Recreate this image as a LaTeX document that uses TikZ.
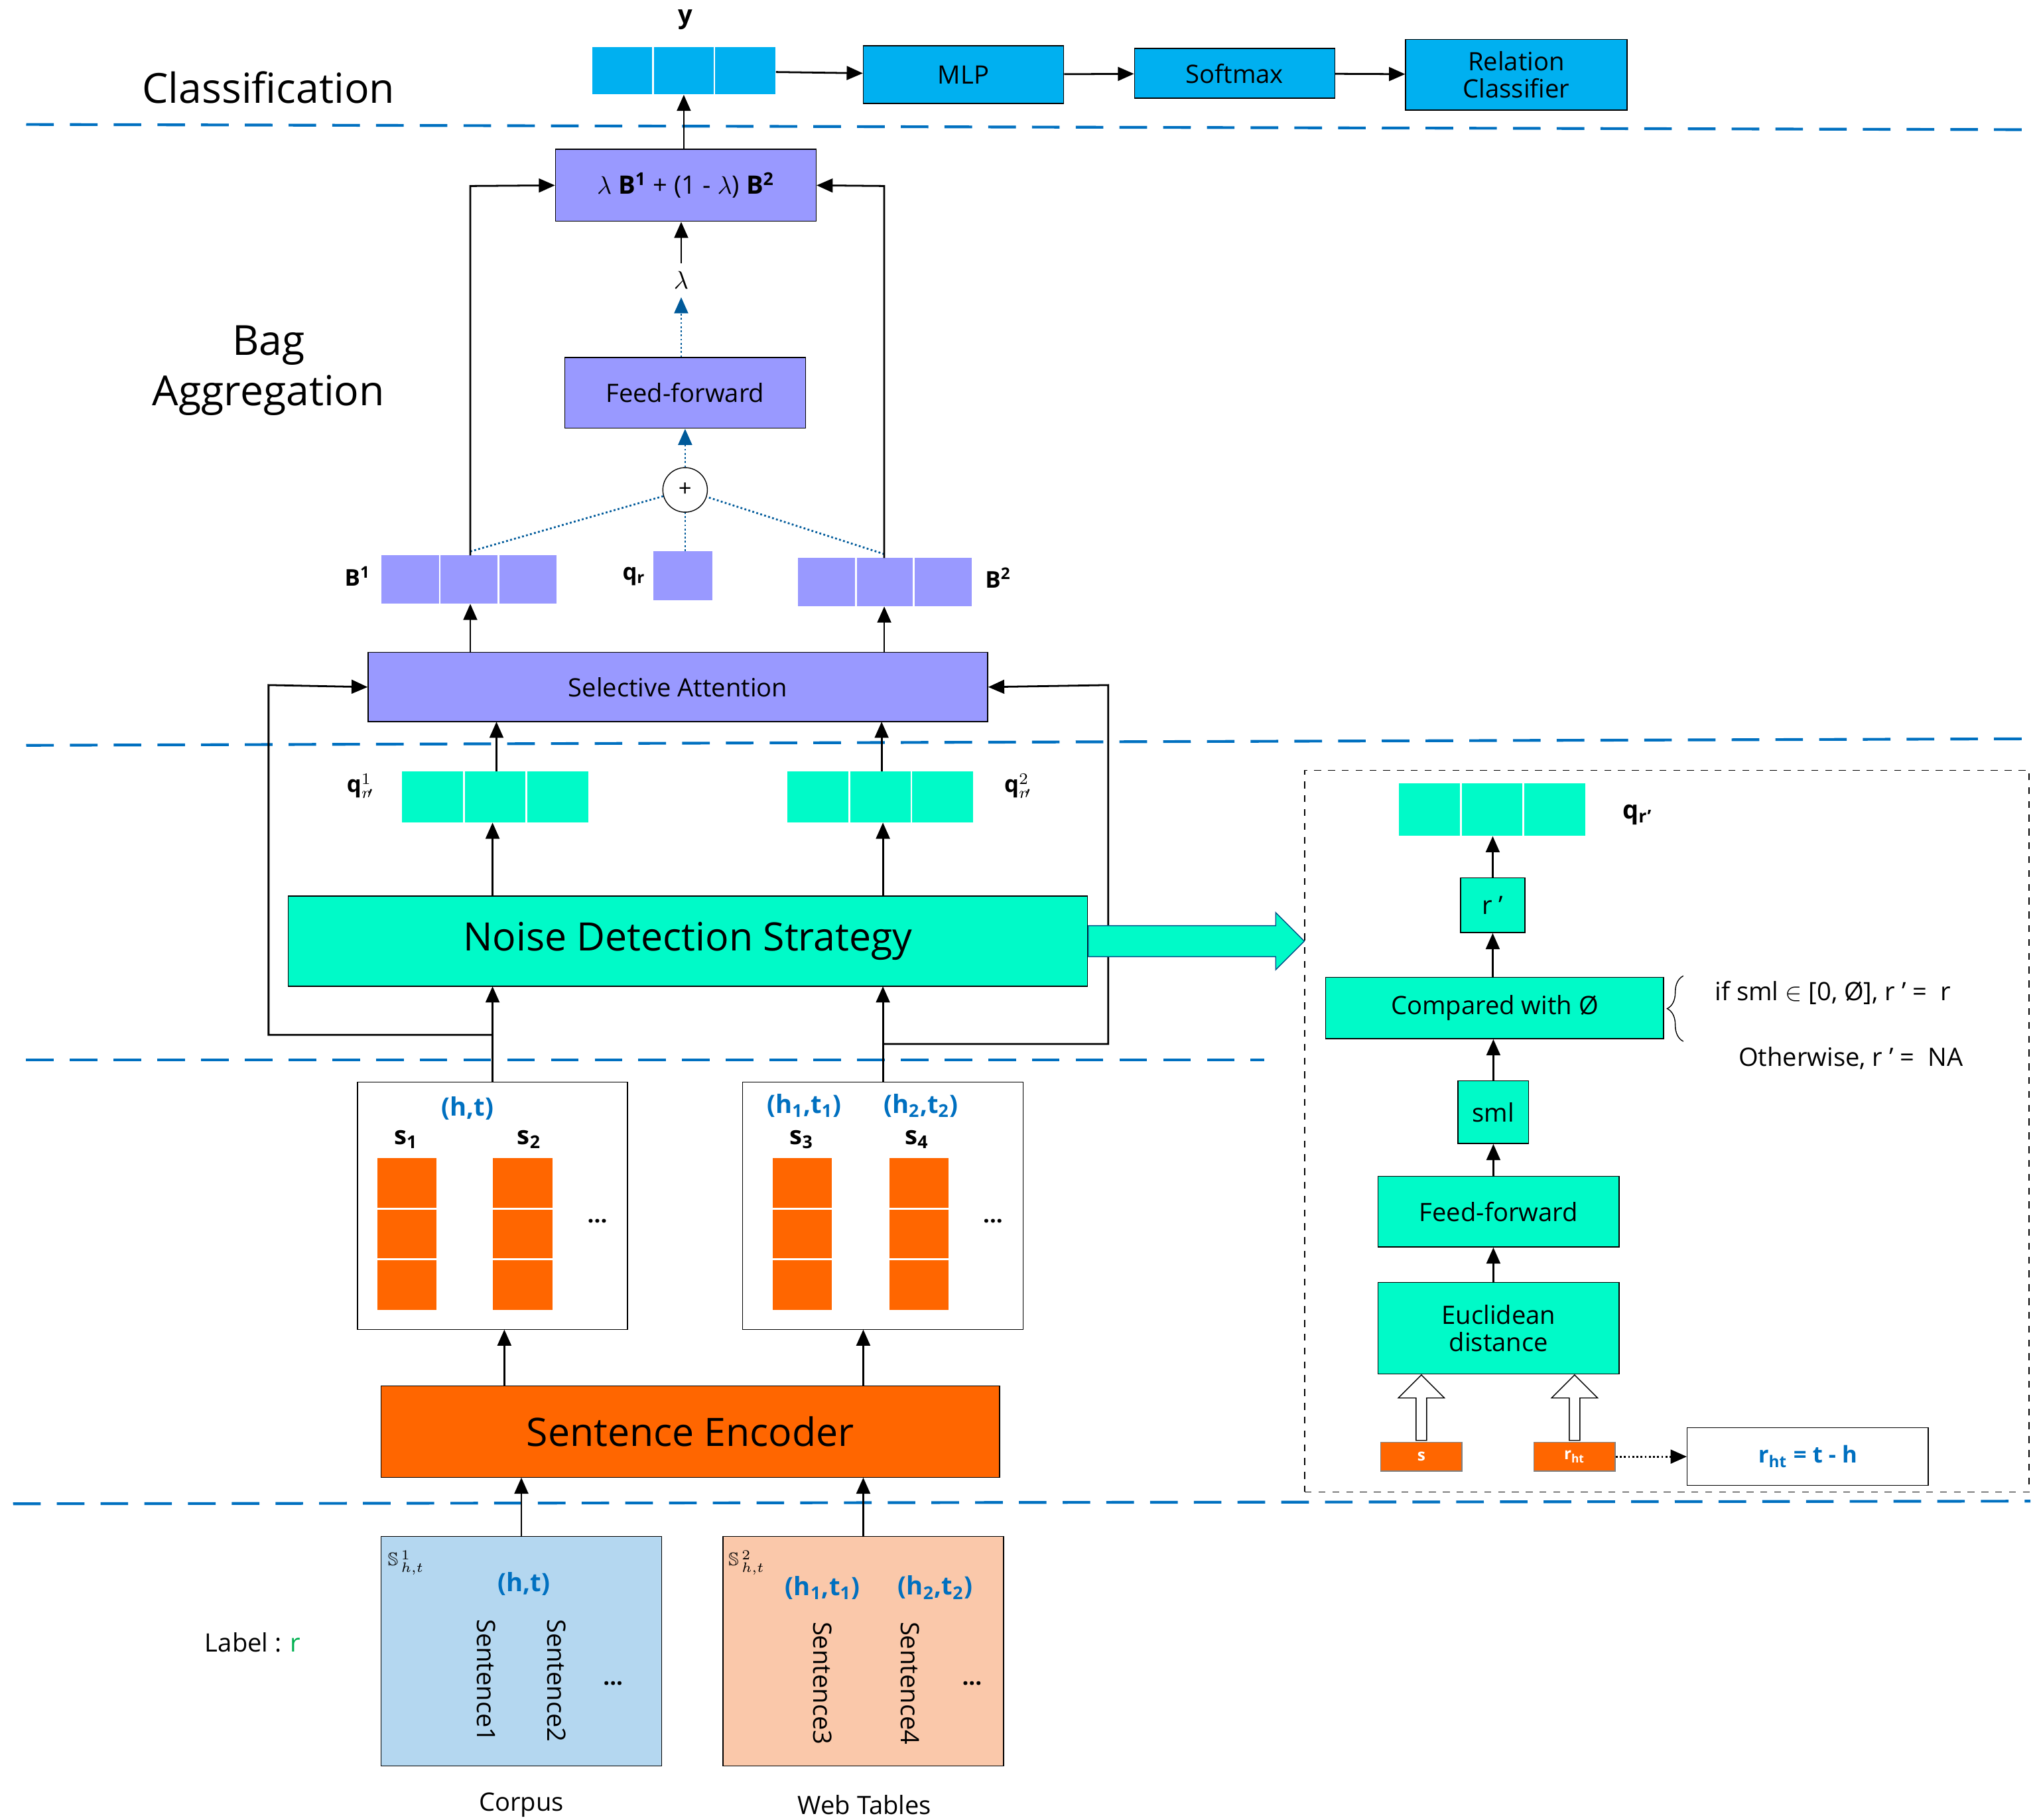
\documentclass[tikz,border=0pt]{standalone}
\usepackage{fontspec}
\setmainfont{Open Sans}
\usepackage{amssymb}
\usetikzlibrary{shapes, arrows.meta, positioning, decorations.pathreplacing}
\definecolor{sepblue}{RGB}{0, 112, 192}
\definecolor{clsblue}{RGB}{0, 176, 240}
\definecolor{lavender}{RGB}{153, 153, 255}
\definecolor{aqua}{RGB}{0, 250, 200}
\definecolor{encorange}{RGB}{255, 102, 0}
\definecolor{corpusblue}{RGB}{180, 215, 240}
\definecolor{webpeach}{RGB}{250, 200, 170}
\definecolor{tuplblue}{RGB}{0, 112, 192}
\definecolor{labelgreen}{RGB}{0, 176, 80}

% box from corner (x1,y1) to corner (x2,y2)
\newcommand{\boxat}[7]{%
  \node[#6, minimum width={(#4-#2)*0.02cm}, minimum height={(#5-#3)*0.02cm}] (#1) at ({(#2+#4)/2},{(#3+#5)/2}) {#7};}
% vector of three cells
\newcommand{\cellvec}[6]{%
  \boxat{#1}{#2}{#3}{#4}{#5}{draw=none, fill=#6}{}
  \draw[white, thick] ({#2+(#4-#2)/3},#3) -- ({#2+(#4-#2)/3},#5);
  \draw[white, thick] ({#2+2*(#4-#2)/3},#3) -- ({#2+2*(#4-#2)/3},#5);}
% stack of three orange cells
\newcommand{\cellstack}[5]{%
  \boxat{#1}{#2}{#3}{#4}{#5}{draw=none, fill=encorange}{}
  \draw[white, thick] (#2,{#3+(#5-#3)/3}) -- (#4,{#3+(#5-#3)/3});
  \draw[white, thick] (#2,{#3+2*(#5-#3)/3}) -- (#4,{#3+2*(#5-#3)/3});}

\begin{document}
\begin{tikzpicture}[x=0.02cm, y=-0.02cm,
    blk/.style={draw, inner sep=0pt, align=center, font=\fontsize{11}{12}\selectfont},
    sep/.style={sepblue, line width=1.2pt, dash pattern=on 12pt off 7pt},
    arr/.style={-{Triangle[length=7pt, width=6pt]}, thick},
    dots/.style={densely dotted, sepblue!80!black, thick},
    darr/.style={dots, -{Triangle[length=7pt, width=6pt]}},
    tupl/.style={tuplblue, font=\bfseries\fontsize{11}{12}\selectfont},
    fat/.style={single arrow, draw, fill=white, minimum height={50*0.02cm}, single arrow head extend=4pt, minimum width=20pt, shape border rotate=90, inner sep=1pt}
  ]
  \useasboundingbox (0,0) rectangle (1555,1389);

  % separators
  \draw[sep] (20,95) -- (1550,99);
  \draw[sep] (20,569) -- (1550,564);
  \draw[sep] (20,809) -- (965,809);
  \draw[sep] (10,1148) -- (1550,1146);

  % stage titles
  \node[font=\fontsize{18}{20}\selectfont] (tcls) at (205,67) {Classification};
  \node[font=\fontsize{18}{22}\selectfont, align=center] (tbag) at (205,283) {Bag\\Aggregation};

  % classification
  \cellvec{yvec}{452}{36}{592}{72}{clsblue}
  \node[font=\bfseries\fontsize{11}{12}\selectfont] (ylab) at (523,15) {y};
  \boxat{mlp}{659}{35}{812}{79}{blk, fill=clsblue}{MLP}
  \boxat{soft}{866}{37}{1019}{75}{blk, fill=clsblue}{Softmax}
  \boxat{rel}{1073}{30}{1242}{84}{blk, fill=clsblue}{Relation\\Classifier}
  \draw[arr] (yvec) -- (mlp);
  \draw[arr] (mlp) -- (soft);
  \draw[arr] (soft) -- (rel);

  % bag aggregation
  \boxat{mix}{424}{114}{623}{169}{blk, fill=lavender}{$\lambda$ \textbf{B$^{\mathbf 1}$} + (1 - $\lambda$) \textbf{B$^{\mathbf 2}$}}
  \draw[arr] (mix.north -| yvec) -- (yvec.south);
  \node[font=\fontsize{11}{12}\selectfont] (lam) at (520,214) {$\lambda$};
  \draw[arr] (lam) -- (lam |- mix.south);
  \boxat{ffa}{431}{273}{615}{327}{blk, fill=lavender}{Feed-forward}
  \draw[darr] (ffa.north -| lam) -- (lam.south);
  \node[draw, circle, inner sep=0pt, minimum size={34*0.02cm}, font=\fontsize{10}{10}\selectfont] (plus) at (523,374) {+};
  \draw[darr] (plus) -- (plus |- ffa.south);

  \cellvec{b1}{291}{424}{425}{461}{lavender}
  \node[font=\bfseries\fontsize{10}{12}\selectfont] (b1lab) at (273,440) {B$^{\mathbf 1}$};
  \boxat{qr}{499}{421}{544}{458}{draw=none, fill=lavender}{}
  \node[font=\bfseries\fontsize{10}{12}\selectfont] (qrlab) at (484,440) {q\textsubscript{r}};
  \cellvec{b2}{609}{426}{742}{463}{lavender}
  \node[font=\bfseries\fontsize{10}{12}\selectfont] (b2lab) at (762,441) {B$^{\mathbf 2}$};
  \draw[dots] (359,421) -- (plus);
  \draw[dots] (675,423) -- (plus);
  \draw[dots] (qr.north -| plus) -- (plus);
  \draw[arr] (359,424) -- (359,142) -- (mix.west);
  \draw[arr] (675,426) -- (675,142) -- (mix.east);

  \boxat{sa}{281}{498}{754}{551}{blk, fill=lavender}{Selective Attention}
  \draw[arr] (sa.north -| 359,0) -- (359,461);
  \draw[arr] (sa.north -| 675,0) -- (675,463);

  \cellvec{q1}{307}{589}{449}{628}{aqua}
  \node[inner sep=0pt] (q1lab) at (275,600) {$\mathbf{q}^{1}_{r\!\prime}$};
  \cellvec{q2}{601}{589}{743}{628}{aqua}
  \node[inner sep=0pt] (q2lab) at (777,600) {$\mathbf{q}^{2}_{r\!\prime}$};
  \draw[arr] (379,589) -- (379,551);
  \draw[arr] (673,589) -- (673,551);

  \boxat{nds}{220}{684}{830}{753}{blk, fill=aqua, font=\fontsize{17}{20}\selectfont}{Noise Detection Strategy}
  \draw[arr] (376,684) -- (376,628);
  \draw[arr] (674,684) -- (674,628);
  \draw[arr] (376,790) -- (205,790) -- (205,523) -- (sa.west);
  \draw[arr] (674,797) -- (846,797) -- (846,523) -- (sa.east);

  % bags
  \boxat{bag1}{273}{826}{479}{1015}{draw}{}
  \boxat{bag2}{567}{826}{781}{1015}{draw}{}
  \draw[arr] (376,826) -- (376,753);
  \draw[arr] (674,826) -- (674,753);
  \node[tupl] (ht1) at (357,846) {(h,t)};
  \node[font=\bfseries\fontsize{11}{12}\selectfont] (s1) at (310,870) {s\textsubscript{1}};
  \node[font=\bfseries\fontsize{11}{12}\selectfont] (s2) at (404,870) {s\textsubscript{2}};
  \cellstack{st1}{288}{884}{333}{1000}
  \cellstack{st2}{376}{884}{422}{1000}
  \node[font=\bfseries] (dd1) at (456,932) {...};
  \node[tupl] (ht2) at (614,844) {(h\textsubscript{1},t\textsubscript{1})};
  \node[tupl] (ht3) at (703,844) {(h\textsubscript{2},t\textsubscript{2})};
  \node[font=\bfseries\fontsize{11}{12}\selectfont] (s3) at (612,870) {s\textsubscript{3}};
  \node[font=\bfseries\fontsize{11}{12}\selectfont] (s4) at (700,870) {s\textsubscript{4}};
  \cellstack{st3}{590}{884}{635}{1000}
  \cellstack{st4}{679}{884}{724}{1000}
  \node[font=\bfseries] (dd2) at (758,932) {...};

  \boxat{enc}{291}{1058}{763}{1128}{blk, fill=encorange, font=\fontsize{17}{20}\selectfont}{Sentence Encoder}
  \draw[arr] (385,1058) -- (385,1015);
  \draw[arr] (659,1058) -- (659,1015);

  % inputs
  \boxat{corp}{291}{1173}{505}{1348}{draw, fill=corpusblue}{}
  \boxat{web}{552}{1173}{766}{1348}{draw, fill=webpeach}{}
  \draw[arr] (398,1173) -- (398,1128);
  \draw[arr] (659,1173) -- (659,1128);
  \node[font=\fontsize{8}{9}\selectfont, inner sep=0pt] (sc1) at (310,1193) {$\mathbb{S}^{\,1}_{\,h,t}$};
  \node[tupl] (ht4) at (400,1209) {(h,t)};
  \node[rotate=-90, font=\fontsize{11}{12}\selectfont] (sen1) at (371,1283) {Sentence1};
  \node[rotate=-90, font=\fontsize{11}{12}\selectfont] (sen2) at (425,1283) {Sentence2};
  \node[font=\bfseries] (dd3) at (468,1285) {...};
  \node[font=\fontsize{8}{9}\selectfont, inner sep=0pt] (sc2) at (570,1193) {$\mathbb{S}^{\,2}_{\,h,t}$};
  \node[tupl] (ht5) at (628,1212) {(h\textsubscript{1},t\textsubscript{1})};
  \node[tupl] (ht6) at (714,1212) {(h\textsubscript{2},t\textsubscript{2})};
  \node[rotate=-90, font=\fontsize{11}{12}\selectfont] (sen3) at (628,1285) {Sentence3};
  \node[rotate=-90, font=\fontsize{11}{12}\selectfont] (sen4) at (695,1285) {Sentence4};
  \node[font=\bfseries] (dd4) at (742,1285) {...};
  \node[font=\fontsize{11}{12}\selectfont] (lcorp) at (398,1378) {Corpus};
  \node[font=\fontsize{11}{12}\selectfont] (lweb) at (660,1378) {Web Tables};
  \node[font=\fontsize{11}{12}\selectfont] (lab) at (193,1254) {Label : \textcolor{labelgreen}{r}};

  % noise detection detail
  \boxat{detail}{996}{588}{1549}{1139}{draw, dashed}{}
  \node[single arrow, draw=sepblue!70!black, fill=aqua, minimum height={165*0.02cm}, inner sep=0pt, inner ysep={11.5*0.02cm}, single arrow head extend={10*0.02cm}, anchor=tail] (big) at (nds.east) {};
  \cellvec{qrp}{1068}{598}{1210}{638}{aqua}
  \node[font=\bfseries\fontsize{11}{12}\selectfont] (qrplab) at (1250,622) {q\textsubscript{r'}};
  \boxat{rp}{1115}{670}{1164}{712}{blk, fill=aqua}{r '}
  \boxat{cmp}{1012}{746}{1270}{793}{blk, fill=aqua}{Compared with Ø}
  \boxat{sml}{1113}{825}{1167}{873}{blk, fill=aqua}{sml}
  \boxat{ffb}{1052}{898}{1236}{952}{blk, fill=aqua}{Feed-forward}
  \boxat{eucl}{1052}{979}{1236}{1049}{blk, fill=aqua}{Euclidean\\distance}
  \draw[arr] (rp) -- (qrp.south -| rp);
  \draw[arr] (cmp.north -| rp) -- (rp.south);
  \draw[arr] (sml) -- (sml |- cmp.south);
  \draw[arr] (ffb.north -| sml) -- (sml.south);
  \draw[arr] (eucl.north -| sml) -- (sml |- ffb.south);
  \draw[decorate, decoration={brace, amplitude=7pt}] (1285,795) -- (1285,745);
  \node[font=\fontsize{11}{12}\selectfont, anchor=west] (cond1) at (1303,758) {if sml $\in$ [0, Ø], r ' =\ \ r};
  \node[font=\fontsize{11}{12}\selectfont, anchor=west] (cond2) at (1321,808) {Otherwise, r ' =\ \ NA};
  \boxat{sbox}{1054}{1101}{1116}{1123}{draw=gray, fill=encorange, text=white, font=\bfseries\fontsize{7}{8}\selectfont}{s}
  \boxat{rht}{1171}{1101}{1233}{1123}{draw=gray, fill=encorange, text=white, font=\bfseries\fontsize{7}{8}\selectfont}{r\textsubscript{ht}}
  \node[fat, anchor=tail] (fat1) at (1085,1100) {};
  \node[fat, anchor=tail] (fat2) at (1202,1100) {};
  \boxat{rdef}{1288}{1090}{1472}{1134}{draw}{\textcolor{tuplblue}{\bfseries r\textsubscript{ht} = t - h}}
  \draw[-{Triangle[length=7pt, width=6pt]}, densely dotted, thick] (rht) -- (rdef);
\end{tikzpicture}
\end{document}
